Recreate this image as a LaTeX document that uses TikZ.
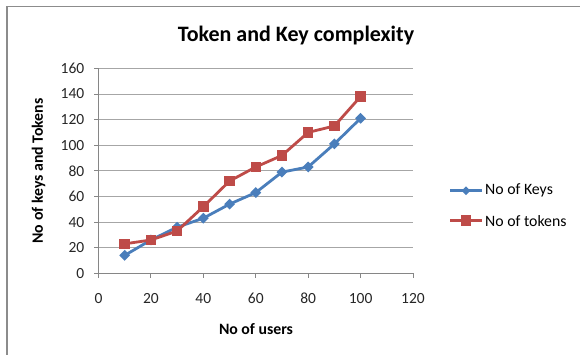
\documentclass[tikz,border=0pt]{standalone}
\usepackage{fontspec}
\setmainfont{Carlito}
\usetikzlibrary{shapes.geometric}

\definecolor{keyblue}{HTML}{4A7EBB}
\definecolor{tokred}{HTML}{BE4B48}
\definecolor{gridgray}{HTML}{A6A6A6}
\definecolor{axisgray}{HTML}{868686}
\definecolor{framegray}{HTML}{8C8C8C}

\tikzset{
  gridline/.style={draw=gridgray, line width=0.9pt},
  axisline/.style={draw=axisgray, line width=0.9pt},
  ticklabel/.style={font=\fontsize{15.5}{17}\selectfont, inner sep=0pt, text=black!85},
  axistitle/.style={font=\bfseries\fontsize{15.8}{18}\selectfont, inner sep=0pt},
  charttitle/.style={font=\bfseries\fontsize{22}{26}\selectfont, inner sep=0pt},
  legendtext/.style={font=\fontsize{15.8}{18}\selectfont, inner sep=0pt, anchor=west},
  keyline/.style={draw=keyblue, line width=2.8pt, line join=round},
  tokline/.style={draw=tokred, line width=2.8pt, line join=round},
  keymark/.style={diamond, fill=keyblue, minimum size=11pt, inner sep=0pt},
  tokmark/.style={rectangle, fill=tokred, minimum size=10.5pt, inner sep=0pt},
}

\begin{document}
\begin{tikzpicture}[x=1pt, y=-1pt]
\useasboundingbox (0,0) rectangle (580,355);

% chart frame (top and left edges)
\draw[draw=framegray, line width=1.5pt] (7,355) -- (7,6.5) -- (580,6.5);

% titles
\node[charttitle, anchor=base] (title) at (296,42) {Token and Key complexity};
\node[axistitle, rotate=90] (ytitle) at (38.5,171) {No of keys and Tokens};
\node[axistitle, anchor=base] (xtitle) at (256,334) {No of users};

% plot area in data units
\begin{scope}[shift={(98.5,273.3)}, x=2.621pt, y=1.281pt]
  \foreach \yv in {20,40,...,160}
    \draw[gridline] (0,\yv) -- (120,\yv);
  \draw[axisline] (0,0) -- (0,160);
  \draw[axisline] (0,0) -- (120,0);
  \foreach \yv in {0,20,...,160} {
    \draw[axisline] (0,\yv) -- ++(-5pt,0pt);
    \node[ticklabel, anchor=east] (ylab\yv) at ([xshift=-14pt]0,\yv) {\yv};
  }
  \foreach \xv in {0,20,...,120} {
    \draw[axisline] (\xv,0) -- ++(0pt,-5pt);
    \node[ticklabel, anchor=base] (xlab\xv) at ([yshift=-29.8pt]\xv,0) {\xv};
  }

  % data points
  \foreach \v [count=\i] in {14,26,36,43,54,63,79,83,101,121}
    \coordinate (k\i) at (\i*10,\v);
  \foreach \v [count=\i] in {23,26,33,52,72,83,92,110,115,138}
    \coordinate (t\i) at (\i*10,\v);

  % series: keys
  \draw[keyline] (k1) \foreach \i in {2,...,10} { -- (k\i) };
  \foreach \i in {1,...,10}
    \node[keymark] (km\i) at (k\i) {};

  % series: tokens
  \draw[tokline] (t1) \foreach \i in {2,...,10} { -- (t\i) };
  \foreach \i in {1,...,10}
    \node[tokmark] (tm\i) at (t\i) {};
\end{scope}

% legend
\coordinate (lka) at (450,190.7);
\coordinate (lkb) at (482,190.7);
\draw[keyline] (lka) -- (lkb);
\node[keymark, minimum size=9pt] (lkm) at (466,190.7) {};
\node[legendtext] (lkt) at (485,190.7) {No of Keys};

\coordinate (lta) at (450,220.7);
\coordinate (ltb) at (482,220.7);
\draw[tokline] (lta) -- (ltb);
\node[tokmark] (ltm) at (466,220.7) {};
\node[legendtext] (ltt) at (485,220.7) {No of tokens};
\end{tikzpicture}
\end{document}
